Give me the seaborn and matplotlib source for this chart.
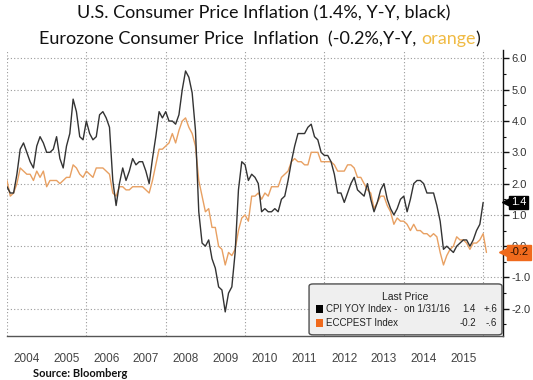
import matplotlib
matplotlib.use('Agg')
import matplotlib.pyplot as plt
import matplotlib.patches as mpatches
from matplotlib import font_manager
import numpy as np
import pandas as pd
import seaborn as sns

# US CPI YoY (%), monthly Jan 2004 - Jan 2016
us_cpi = [
    1.9, 1.7, 1.7, 2.3, 3.1, 3.3, 3.0, 2.7, 2.5, 3.2, 3.5, 3.3,   # 2004
    3.0, 3.0, 3.1, 3.5, 2.8, 2.5, 3.2, 3.6, 4.7, 4.3, 3.5, 3.4,   # 2005
    4.0, 3.6, 3.4, 3.5, 4.2, 4.3, 4.1, 3.8, 2.1, 1.3, 2.0, 2.5,   # 2006
    2.1, 2.4, 2.8, 2.6, 2.7, 2.7, 2.4, 2.0, 2.8, 3.5, 4.3, 4.1,   # 2007
    4.3, 4.0, 4.0, 3.9, 4.2, 5.0, 5.6, 5.4, 4.9, 3.7, 1.1, 0.1,   # 2008
    0.0, 0.2, -0.4, -0.7, -1.3, -1.4, -2.1, -1.5, -1.3, -0.2, 1.8, 2.7,  # 2009
    2.6, 2.1, 2.3, 2.2, 2.0, 1.1, 1.2, 1.1, 1.1, 1.2, 1.1, 1.5,   # 2010
    1.6, 2.1, 2.7, 3.2, 3.6, 3.6, 3.6, 3.8, 3.9, 3.5, 3.4, 3.0,   # 2011
    2.9, 2.9, 2.7, 2.3, 1.7, 1.7, 1.4, 1.7, 2.0, 2.2, 1.8, 1.7,   # 2012
    1.6, 2.0, 1.5, 1.1, 1.4, 1.8, 2.0, 1.5, 1.2, 1.0, 1.2, 1.5,   # 2013
    1.6, 1.1, 1.5, 2.0, 2.1, 2.1, 2.0, 1.7, 1.7, 1.7, 1.3, 0.8,   # 2014
    -0.1, 0.0, -0.1, -0.2, 0.0, 0.1, 0.2, 0.2, 0.0, 0.2, 0.5, 0.7,  # 2015
    1.4,                                                          # 2016
]

# Eurozone HICP flash YoY (%), monthly Jan 2004 - Feb 2016
ez_cpi = [
    2.1, 1.6, 1.7, 2.0, 2.5, 2.4, 2.3, 2.3, 2.1, 2.4, 2.2, 2.4,   # 2004
    1.9, 2.1, 2.1, 2.1, 2.0, 2.1, 2.2, 2.2, 2.6, 2.5, 2.3, 2.2,   # 2005
    2.4, 2.3, 2.2, 2.5, 2.5, 2.5, 2.4, 2.3, 1.7, 1.6, 1.9, 1.9,   # 2006
    1.8, 1.8, 1.9, 1.9, 1.9, 1.9, 1.8, 1.7, 2.1, 2.6, 3.1, 3.1,   # 2007
    3.2, 3.3, 3.6, 3.3, 3.7, 4.0, 4.1, 3.8, 3.6, 3.2, 2.1, 1.6,   # 2008
    1.1, 1.2, 0.6, 0.6, 0.0, -0.1, -0.6, -0.2, -0.3, -0.1, 0.5, 0.9,  # 2009
    1.0, 0.8, 1.6, 1.6, 1.7, 1.5, 1.7, 1.6, 1.9, 1.9, 1.9, 2.2,   # 2010
    2.3, 2.4, 2.7, 2.8, 2.7, 2.7, 2.6, 2.6, 3.0, 3.0, 3.0, 2.7,   # 2011
    2.7, 2.7, 2.7, 2.6, 2.4, 2.4, 2.4, 2.6, 2.6, 2.5, 2.2, 2.2,   # 2012
    2.0, 1.8, 1.7, 1.2, 1.4, 1.6, 1.6, 1.3, 1.1, 0.7, 0.9, 0.8,   # 2013
    0.8, 0.7, 0.5, 0.7, 0.5, 0.5, 0.4, 0.4, 0.3, 0.4, 0.3, -0.2,  # 2014
    -0.6, -0.3, -0.1, 0.0, 0.3, 0.2, 0.2, 0.1, -0.1, 0.1, 0.1, 0.2,  # 2015
    0.4, -0.2,                                                    # 2016
]

years = list(range(2004, 2016))
y_ticks = [-2, -1, 0, 1, 2, 3, 4, 5, 6]
legend_rows = [
    ('CPI YOY Index -', 'on 1/31/16', '1.4', '+.6'),
    ('ECCPEST Index', '', '-0.2', '-.6'),
]

us_df = pd.DataFrame({'t': 2004 + np.arange(len(us_cpi)) / 12, 'v': us_cpi})
ez_df = pd.DataFrame({'t': 2004 + np.arange(len(ez_cpi)) / 12, 'v': ez_cpi})

sns.set_style('white')
names = {f.name for f in font_manager.fontManager.ttflist}
narrow = 'Liberation Sans Narrow' if 'Liberation Sans Narrow' in names else 'Liberation Sans'
plt.rcParams['font.family'] = [narrow, 'DejaVu Sans']
plt.rcParams['axes.unicode_minus'] = False

US_COL = '#333333'
EZ_COL = '#e8a062'
BOX_OR = '#f06a1c'

fig = plt.figure(figsize=(5.33, 3.80), dpi=100)
ax = fig.add_axes([0.0131, 0.1158, 0.9306, 0.7526])

# grid (dotted)
for y in y_ticks:
    ax.axhline(y, color='#9a9a9a', lw=0.8, ls=(0, (1, 2)), zorder=0)
for x in range(2004, 2017, 2):
    ax.axvline(x, color='#9a9a9a', lw=0.8, ls=(0, (1, 2)), zorder=0)

sns.lineplot(data=ez_df, x='t', y='v', color=EZ_COL, lw=1.0, ax=ax, legend=False, zorder=2)
sns.lineplot(data=us_df, x='t', y='v', color=US_COL, lw=1.0, ax=ax, legend=False, zorder=3)

ax.set_xlim(2004, 2016.5)
ax.set_ylim(-2.87, 6.27)
ax.set_xlabel('')
ax.set_ylabel('')

# right value axis
ax.yaxis.tick_right()
ax.set_yticks(y_ticks)
ax.set_yticklabels(['%.1f' % v for v in y_ticks])
ax.set_yticks(np.arange(-2.5, 6.01, 0.5), minor=True)
ax.tick_params(axis='y', which='major', direction='out', length=4, width=1,
               color='#111111', labelsize=8, labelcolor='#333333', pad=2)
ax.tick_params(axis='y', which='minor', direction='out', length=2, width=0.8,
               color='#111111')

# bottom year cells
ax.set_xticks(range(2004, 2017))
ax.set_xticklabels([])
ax.set_xticks([yr + 0.5 for yr in years], minor=True)
ax.set_xticklabels([str(yr) for yr in years], minor=True)
ax.tick_params(axis='x', which='major', direction='out', length=19, width=0.8,
               color='#8a8a8a')
ax.tick_params(axis='x', which='minor', length=0, labelsize=8.5,
               labelcolor='#444444', pad=12)

for s in ['top', 'left']:
    ax.spines[s].set_visible(False)
ax.spines['right'].set_color('#111111')
ax.spines['right'].set_linewidth(1)
ax.spines['bottom'].set_color('#555555')
ax.spines['bottom'].set_linewidth(1)

# last value tags on the right axis (box + small pointer)
ytr = ax.get_yaxis_transform()
ax.text(1.016, us_cpi[-1], '%.1f' % us_cpi[-1], transform=ytr, ha='left', va='center',
        fontsize=8, color='white', clip_on=False, zorder=6,
        bbox=dict(boxstyle='square,pad=0.15', fc='black', ec='black'))
ax.plot([1.006], [us_cpi[-1]], marker='<', ms=6, color='black', transform=ytr,
        clip_on=False, zorder=6)
ax.text(1.013, ez_cpi[-1], '%.1f' % ez_cpi[-1], transform=ytr, ha='left', va='center',
        fontsize=8, color='#2a1000', clip_on=False, zorder=6,
        bbox=dict(boxstyle='square,pad=0.2', fc=BOX_OR, ec=BOX_OR))
ax.plot([1.003], [ez_cpi[-1]], marker='<', ms=7, color=BOX_OR, transform=ytr,
        clip_on=False, zorder=6)

# "Last Price" legend panel
box = mpatches.FancyBboxPatch((0.609, 0.004), 0.389, 0.178, transform=ax.transAxes,
                              boxstyle='round,pad=0,rounding_size=0.008',
                              fc='#efefef', ec='#505050', lw=1, zorder=5, clip_on=False)
ax.add_patch(box)
ax.text(0.802, 0.136, 'Last Price', transform=ax.transAxes, ha='center', va='center',
        fontsize=7.5, color='#222222', zorder=6)
for (name, date, val, chg), col, yy in zip(legend_rows, ['black', BOX_OR], [0.094, 0.045]):
    ax.add_patch(mpatches.Rectangle((0.622, yy - 0.014), 0.016, 0.028, transform=ax.transAxes,
                                    fc=col, ec='none', zorder=6))
    ax.text(0.643, yy, name, transform=ax.transAxes, ha='left', va='center',
            fontsize=7, color='#222222', zorder=6)
    if date:
        ax.text(0.800, yy, date, transform=ax.transAxes, ha='left', va='center',
                fontsize=7, color='#222222', zorder=6)
    ax.text(0.945, yy, val, transform=ax.transAxes, ha='right', va='center',
            fontsize=7, color='#222222', zorder=6)
    ax.text(0.988, yy, chg, transform=ax.transAxes, ha='right', va='center',
            fontsize=7, color='#222222', zorder=6)

# titles
tfont = ['Lato', 'DejaVu Sans']
fig.text(0.494, 0.964, 'U.S. Consumer Price Inflation (1.4%, Y-Y, black)', ha='center',
         va='center', fontsize=13, family=tfont, color='#111111')
t1 = fig.text(0.79, 0.897, 'Eurozone Consumer Price  Inflation  (-0.2%,Y-Y, ', ha='right',
              va='center', fontsize=13, family=tfont, color='#111111')
t2 = ax.annotate('orange', xy=(1, 0), xycoords=t1, ha='left', va='bottom',
                 fontsize=13, family=tfont, color='#f0bb45', annotation_clip=False)
ax.annotate(')', xy=(1, 0), xycoords=t2, ha='left', va='bottom',
            fontsize=13, family=tfont, color='#111111', annotation_clip=False)

fig.text(0.062, 0.018, 'Source: Bloomberg', ha='left', va='center', fontsize=8,
         fontweight='bold', family=tfont, color='#111111')

fig.savefig('out.png', dpi=100)
